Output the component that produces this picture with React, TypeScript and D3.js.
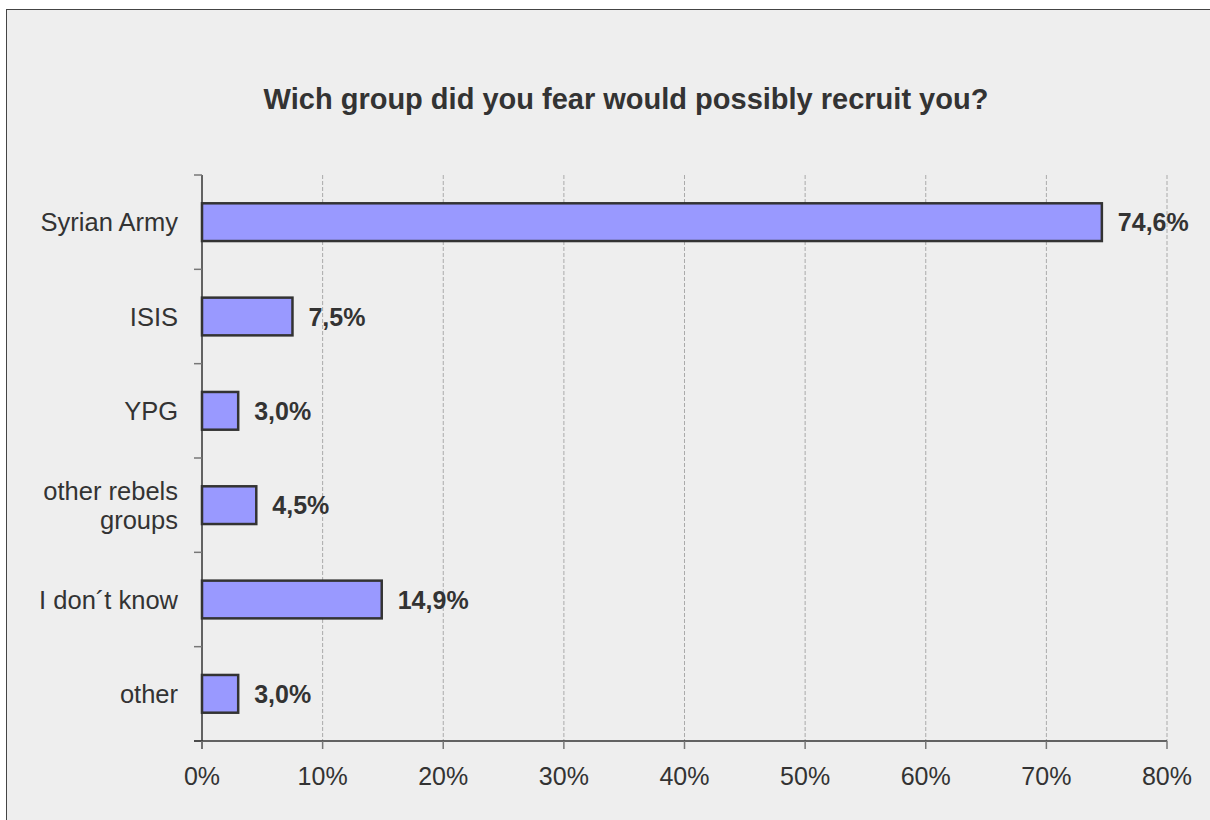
import React from 'react';
import * as d3 from 'd3';

const categories = ['Syrian Army', 'ISIS', 'YPG', 'other rebels groups', 'I don´t know', 'other'];
const categoryLines = [['Syrian Army'], ['ISIS'], ['YPG'], ['other rebels', 'groups'], ['I don´t know'], ['other']];
const values = [74.6, 7.5, 3.0, 4.5, 14.9, 3.0];
const xTicks = [0, 10, 20, 30, 40, 50, 60, 70, 80];
const title = 'Wich group did you fear would possibly recruit you?';

const W = 1210;
const H = 820;
const plot = { left: 202, right: 1167, top: 175, bottom: 741 };
const font = '"Liberation Sans", Arial, sans-serif';

export default function App() {
  const x = d3.scaleLinear().domain([0, 80]).range([plot.left, plot.right]);
  const y = d3.scaleBand<string>().domain(categories).range([plot.top, plot.bottom]).paddingInner(0.6).paddingOuter(0.3);
  const band = (plot.bottom - plot.top) / categories.length;

  return (
    <svg width={W} height={H} style={{ position: 'absolute', left: 0, top: 0, display: 'block' }}>
      <rect x={0} y={0} width={W} height={H} fill="#ffffff" />
      <rect x={6.5} y={9.5} width={W} height={H} fill="#eeeeee" stroke="#444" strokeWidth={1} />
      <text x={626} y={109} textAnchor="middle" fontFamily={font} fontWeight="bold" fontSize={29} fill="#333">
        {title}
      </text>

      {xTicks.slice(1).map(t => (
        <line key={'g' + t} x1={x(t)} x2={x(t)} y1={plot.top} y2={plot.bottom}
          stroke="#aaa" strokeWidth={1} strokeDasharray="4,2" />
      ))}

      {/* y axis */}
      <line x1={plot.left} x2={plot.left} y1={plot.top} y2={plot.bottom + 8} stroke="#333" strokeWidth={1.5} />
      {d3.range(categories.length + 1).map(i => (
        <line key={'yt' + i} x1={plot.left - 8} x2={plot.left} y1={plot.top + i * band} y2={plot.top + i * band}
          stroke="#777" strokeWidth={1.5} />
      ))}
      {/* x axis */}
      <line x1={plot.left - 8} x2={plot.right} y1={plot.bottom} y2={plot.bottom} stroke="#333" strokeWidth={1.5} />
      {xTicks.map(t => (
        <g key={'xt' + t}>
          <line x1={x(t)} x2={x(t)} y1={plot.bottom} y2={plot.bottom + 8} stroke="#777" strokeWidth={1.5} />
          <text x={x(t)} y={plot.bottom + 44} textAnchor="middle" fontFamily={font} fontSize={25} fill="#333">
            {t}%
          </text>
        </g>
      ))}

      {categories.map((c, i) => {
        const yc = (y(c) ?? 0) + y.bandwidth() / 2;
        const lines = categoryLines[i];
        return (
          <g key={c}>
            <rect x={x(0)} y={y(c)} width={x(values[i]) - x(0)} height={y.bandwidth()}
              fill="#9999ff" stroke="#333" strokeWidth={2.5} />
            <text x={x(values[i]) + 16} y={yc + 9} fontFamily={font} fontWeight="bold" fontSize={25} fill="#333">
              {values[i].toFixed(1).replace('.', ',')}%
            </text>
            {lines.map((l, j) => (
              <text key={l} x={178} y={yc + 9 + (j - (lines.length - 1) / 2) * 29} textAnchor="end"
                fontFamily={font} fontSize={25.5} fill="#333">{l}</text>
            ))}
          </g>
        );
      })}
    </svg>
  );
}
